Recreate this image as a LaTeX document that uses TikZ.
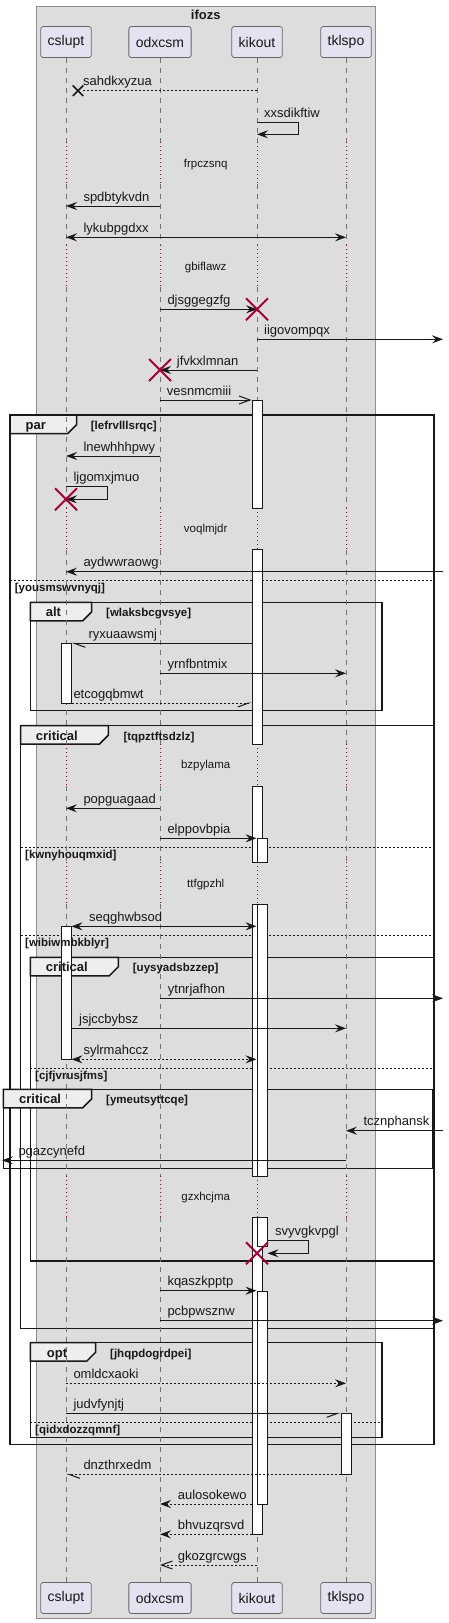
\documentclass[tikz,border=0pt]{standalone}
\usepackage{fontspec}
\setmainfont{Liberation Sans}
\usetikzlibrary{arrows.meta,shapes.misc}
\definecolor{ink}{HTML}{181818}
\definecolor{crim}{HTML}{A80036}
\definecolor{boxgrey}{HTML}{DDDDDD}
\definecolor{partfill}{HTML}{E2E2F0}
\definecolor{tabfill}{HTML}{EEEEEE}
\tikzset{
  part/.style={draw=black!60, line width=0.8pt, fill=partfill, rounded corners=2.5pt, minimum height=31pt, inner xsep=7pt, font=\fontsize{14}{16}\selectfont, text=ink},
  life/.style={draw=black!55, line width=0.8pt, dash pattern=on 5pt off 5pt},
  delayline/.style={draw=crim, line width=0.9pt, dash pattern=on 1pt off 3pt},
  msg/.style={draw=ink, line width=1pt},
  dmsg/.style={msg, dash pattern=on 2pt off 2pt},
  lbl/.style={anchor=base west, inner sep=0pt, font=\fontsize{13}{15}\selectfont, text=ink},
  dlbl/.style={anchor=center, inner sep=0pt, font=\fontsize{11.5}{13}\selectfont, text=ink},
  act/.style={draw=ink, line width=1pt, fill=white, minimum width=10pt, inner sep=0pt, anchor=north},
  frm/.style={draw=ink, line width=1.5pt},
  sepline/.style={draw=ink, line width=1pt, dash pattern=on 2pt off 2pt},
  tabshape/.style={draw=ink, line width=1.5pt, fill=tabfill},
  tablbl/.style={anchor=base west, inner sep=0pt, font=\bfseries\fontsize{13}{15}\selectfont, text=ink},
  cond/.style={anchor=base west, inner sep=0pt, font=\bfseries\fontsize{11.5}{13}\selectfont, text=ink},
  redx/.style={cross out, draw=crim, line width=2pt, minimum size=20pt, inner sep=0pt},
  blkx/.style={cross out, draw=ink, line width=1.5pt, minimum size=9pt, inner sep=0pt},
  tipF/.tip={Stealth[length=11pt,width=8pt,inset=4pt]},
  tipO/.tip={Straight Barb[length=11pt,width=8pt]},
  tipHL/.tip={Straight Barb[left,length=11pt,width=8pt]},
  tipHR/.tip={Straight Barb[right,length=11pt,width=8pt]},
}
\begin{document}
\begin{tikzpicture}[x=1pt,y=-1pt]
\useasboundingbox (0,0) rectangle (448,1623);
% group box
\draw[draw=black!45, line width=1pt, fill=boxgrey] (36.3,6) rectangle (375.3,1618.3);
\node[anchor=base, inner sep=0pt, font=\bfseries\fontsize{13}{15}\selectfont, text=ink] (title) at (205.8,19) {ifozs};
% participants
\node[part] (pC) at (66,42) {cslupt};
\node[part] (pO) at (160,42) {odxcsm};
\node[part] (pK) at (257,42) {kikout};
\node[part] (pT) at (346,42) {tklspo};
\node[part] (bC) at (66,1598) {cslupt};
\node[part] (bO) at (160,1598) {odxcsm};
\node[part] (bK) at (257,1598) {kikout};
\node[part] (bT) at (346,1598) {tklspo};
\coordinate (R) at (443,0);
\coordinate (L) at (2,0);
% frames
% par
\draw[frm] (10,415) rectangle (434,1444.3);
\draw[tabshape] (10,415) -- (76.7,415) -- (76.7,424.5) -- (67.7,433.5) -- (10,433.5) -- cycle;
\draw[sepline] (10,580.3) -- (434,580.3);
% alt
\draw[frm] (30.3,602.3) rectangle (382,710.7);
\draw[tabshape] (30.3,602.3) -- (91.7,602.3) -- (91.7,611.8) -- (82.7,620.8) -- (30.3,620.8) -- cycle;
% critical 1
\draw[frm] (20.7,725.7) rectangle (434,1328.3);
\draw[tabshape] (20.7,725.7) -- (108.3,725.7) -- (108.3,735.2) -- (99.3,744.2) -- (20.7,744.2) -- cycle;
\draw[sepline] (20.7,847) -- (434,847);
\draw[sepline] (20.7,935.7) -- (434,935.7);
% critical 2
\draw[frm] (30.3,957.3) rectangle (434,1261);
\draw[tabshape] (30.3,957.3) -- (118.3,957.3) -- (118.3,966.8) -- (109.3,975.8) -- (30.3,975.8) -- cycle;
\draw[sepline] (30.3,1068.3) -- (434,1068.3);
% critical 3
\draw[frm] (3.3,1089.3) rectangle (433,1168.3);
\draw[tabshape] (3.3,1089.3) -- (91.7,1089.3) -- (91.7,1098.8) -- (82.7,1107.8) -- (3.3,1107.8) -- cycle;
% opt
\draw[frm] (30.3,1342.7) rectangle (382,1437.3);
\draw[tabshape] (30.3,1342.7) -- (95.7,1342.7) -- (95.7,1352.2) -- (86.7,1361.2) -- (30.3,1361.2) -- cycle;
\draw[sepline] (30.3,1422) -- (382,1422);
% lifelines
\foreach \p in {C,O,K,T}{
  \foreach \a/\b in {57.5/142.3,183.8/245.3,286.8/508,549.5/744,785.5/862.3,903.8/1175.7,1217.2/1582.5}{
    \draw[life] (p\p |- 0,\a) -- (p\p |- 0,\b);
  }
  \foreach \a/\b in {142.3/183.8,245.3/286.8,508/549.5,744/785.5,862.3/903.8,1175.7/1217.2}{
    \draw[delayline] (p\p |- 0,\a) -- (p\p |- 0,\b);
  }
}
% activations
\node[act, minimum height=107.7pt] (aK1) at (257,400) {};
\node[act, minimum height=195pt] (aK2) at (257,549.3) {};
\node[act, minimum height=76.3pt] (aK3) at (257,786) {};
\node[act, minimum height=271.4pt] (aK4) at (257,904.3) {};
\node[act, minimum height=317.6pt] (aK5) at (257,1216.7) {};
\node[act, minimum height=24pt] (aN1) at (262,838.3) {};
\node[act, minimum height=271.4pt] (aN2) at (262,904.3) {};
\node[act, minimum height=29.3pt] (aN3) at (262,1216.7) {};
\node[act, minimum height=213.3pt] (aN4) at (262,1290.7) {};
\node[act, minimum height=59.4pt] (aC1) at (66,643.3) {};
\node[act, minimum height=133pt] (aC2) at (66,926.3) {};
\node[act, minimum height=61pt] (aT1) at (346,1413.3) {};
% messages
\node[blkx] (x0) at (78,90.7) {};
\draw[dmsg] (pK |- 0,90.7) -- (x0.east);
\node[lbl] (m1) at (83,85.7) {sahdkxyzua};
\draw[msg,-{tipF}] (pK |- 0,122.3) -- (298.7,122.3) -- (298.7,134.3) -- (pK |- 0,134.3);
\node[lbl] (m2) at (264,117.3) {xxsdikftiw};
\node[dlbl] (d1) at (205.7,164.3) {frpczsnq};
\draw[msg,-{tipF}] (pO |- 0,206) -- (pC |- 0,206);
\node[lbl] (m3) at (83.3,201) {spdbtykvdn};
\draw[msg,{tipF}-{tipF}] (pC |- 0,237.3) -- (pT |- 0,237.3);
\node[lbl] (m4) at (83.3,232.3) {lykubpgdxx};
\node[dlbl] (d2) at (205.7,267.3) {gbiflawz};
\draw[msg,-{tipF}] (pO |- 0,309.3) -- (pK |- 0,309.3);
\node[lbl] (m5) at (167.3,304.3) {djsggegzfg};
\draw[msg,-{tipF}] (pK |- 0,339.3) -- (R |- 0,339.3);
\node[lbl] (m6) at (264,334.3) {iigovompqx};
\draw[msg,-{tipF}] (pK |- 0,370) -- (pO |- 0,370);
\node[lbl] (m7) at (176.7,365) {jfvkxlmnan};
\draw[msg,-{tipO}] (pO |- 0,400) -- (aK1.west |- 0,400);
\node[lbl] (m8) at (166.7,395) {vesnmcmiii};
\draw[msg,-{tipF}] (pO |- 0,456) -- (pC |- 0,456);
\node[lbl] (m9) at (83.3,451) {lnewhhhpwy};
\draw[msg,-{tipF}] (pC |- 0,486) -- (107.3,486) -- (107.3,499.3) -- (pC |- 0,499.3);
\node[lbl] (m10) at (73.3,481) {ljgomxjmuo};
\node[dlbl] (d3) at (205.7,530) {voqlmjdr};
\draw[msg,-{tipF}] (R |- 0,571.7) -- (pC |- 0,571.7);
\node[lbl] (m11) at (83.3,566.7) {aydwwraowg};
\draw[msg,-{tipHL}] (aK2.west |- 0,643.3) -- (aC1.east |- 0,643.3);
\node[lbl] (m12) at (88.3,638.3) {ryxuaawsmj};
\draw[msg,-{tipF}] (pO |- 0,673.3) -- (pT |- 0,673.3);
\node[lbl] (m13) at (167.3,668.3) {yrnfbntmix};
\draw[dmsg,-{tipHR}] (aC1.east |- 0,703) -- (aK2.west |- 0,703);
\node[lbl] (m14) at (73.3,698) {etcogqbmwt};
\node[dlbl] (d4) at (205.7,766) {bzpylama};
\draw[msg,-{tipF}] (pO |- 0,808.3) -- (pC |- 0,808.3);
\node[lbl] (m15) at (83.3,803.3) {popguagaad};
\draw[msg,-{tipF}] (pO |- 0,838.3) -- (aN1.west |- 0,838.3);
\node[lbl] (m16) at (167.3,833.3) {elppovbpia};
\node[dlbl] (d5) at (205.7,884.3) {ttfgpzhl};
\draw[msg,{tipF}-{tipF}] (aC2.east |- 0,926.3) -- (aN2.west |- 0,926.3);
\node[lbl] (m17) at (89,921.3) {seqghwbsod};
\draw[msg,-{tipF}] (pO |- 0,998.3) -- (R |- 0,998.3);
\node[lbl] (m18) at (167.7,993.3) {ytnrjafhon};
\draw[msg,-{tipF}] (aC2.east |- 0,1028.3) -- (pT |- 0,1028.3);
\node[lbl] (m19) at (79,1023.3) {jsjccbybsz};
\draw[dmsg,{tipF}-{tipF}] (aC2.east |- 0,1059.3) -- (aN2.west |- 0,1059.3);
\node[lbl] (m20) at (83.3,1054.3) {sylrmahccz};
\draw[msg,-{tipF}] (R |- 0,1130.7) -- (pT |- 0,1130.7);
\node[lbl] (m21) at (363.3,1125.7) {tcznphansk};
\draw[msg,-{tipF}] (pT |- 0,1160.3) -- (L |- 0,1160.3);
\node[lbl] (m22) at (18.3,1155.3) {pgazcynefd};
\node[dlbl] (d6) at (205.7,1197.7) {gzxhcjma};
\draw[msg,-{tipF}] (aN3.east |- 0,1240.7) -- (308.3,1240.7) -- (308.3,1253.3) -- (aN3.east |- 0,1253.3);
\node[lbl] (m23) at (275,1235.7) {svyvgkvpgl};
\draw[msg,-{tipF}] (pO |- 0,1290.7) -- (aN4.west |- 0,1290.7);
\node[lbl] (m24) at (167.3,1285.7) {kqaszkpptp};
\draw[msg,-{tipF}] (pO |- 0,1320.7) -- (R |- 0,1320.7);
\node[lbl] (m25) at (167.3,1315.7) {pcbpwsznw};
\draw[dmsg,-{tipF}] (pC |- 0,1383.3) -- (pT |- 0,1383.3);
\node[lbl] (m26) at (73.3,1378.3) {omldcxaoki};
\draw[msg,-{tipHR}] (pC |- 0,1413.3) -- (aT1.west |- 0,1413.3);
\node[lbl] (m27) at (73.3,1408.3) {judvfynjtj};
\draw[dmsg,-{tipHL}] (aT1.west |- 0,1474.3) -- (pC |- 0,1474.3);
\node[lbl] (m28) at (83.3,1469.3) {dnzthrxedm};
\draw[dmsg,-{tipF}] (aK5.west |- 0,1504) -- (pO |- 0,1504);
\node[lbl] (m29) at (177.7,1499) {aulosokewo};
\draw[dmsg,-{tipF}] (aK5.west |- 0,1534.3) -- (pO |- 0,1534.3);
\node[lbl] (m30) at (177.7,1529.3) {bhvuzqrsvd};
\draw[dmsg,-{tipO}] (pK |- 0,1565) -- (pO |- 0,1565);
\node[lbl] (m31) at (177.7,1560) {gkozgrcwgs};
% destroy marks
\node[redx] (xA) at (pK |- 0,309.3) {};
\node[redx] (xB) at (pO |- 0,370) {};
\node[redx] (xC) at (pC |- 0,499.3) {};
\node[redx] (xD) at (pK |- 0,1253.3) {};
% frame labels
\node[tablbl] (t1) at (25.5,429.5) {par};
\node[cond] (c1) at (90.7,429.5) {[lefrvlllsrqc]};
\node[cond] (s1) at (14.7,591.3) {[yousmswvnyqj]};
\node[tablbl] (t2) at (45.7,616.8) {alt};
\node[cond] (c2) at (106,616.8) {[wlaksbcgvsye]};
\node[tablbl] (t3) at (35.7,740.2) {critical};
\node[cond] (c3) at (123.3,740.2) {[tqpztftsdzlz]};
\node[cond] (s2) at (25,858) {[kwnyhouqmxid]};
\node[cond] (s3) at (25,946.7) {[wibiwmbkblyr]};
\node[tablbl] (t4) at (45.7,971.8) {critical};
\node[cond] (c4) at (132.7,971.8) {[uysyadsbzzep]};
\node[cond] (s4) at (35,1079.3) {[cjfjvrusjfms]};
\node[tablbl] (t5) at (19,1103.8) {critical};
\node[cond] (c5) at (106,1103.8) {[ymeutsyttcqe]};
\node[tablbl] (t6) at (46.7,1357.2) {opt};
\node[cond] (c6) at (110,1357.2) {[jhqpdogrdpei]};
\node[cond] (s5) at (35,1433) {[qidxdozzqmnf]};
\end{tikzpicture}
\end{document}
